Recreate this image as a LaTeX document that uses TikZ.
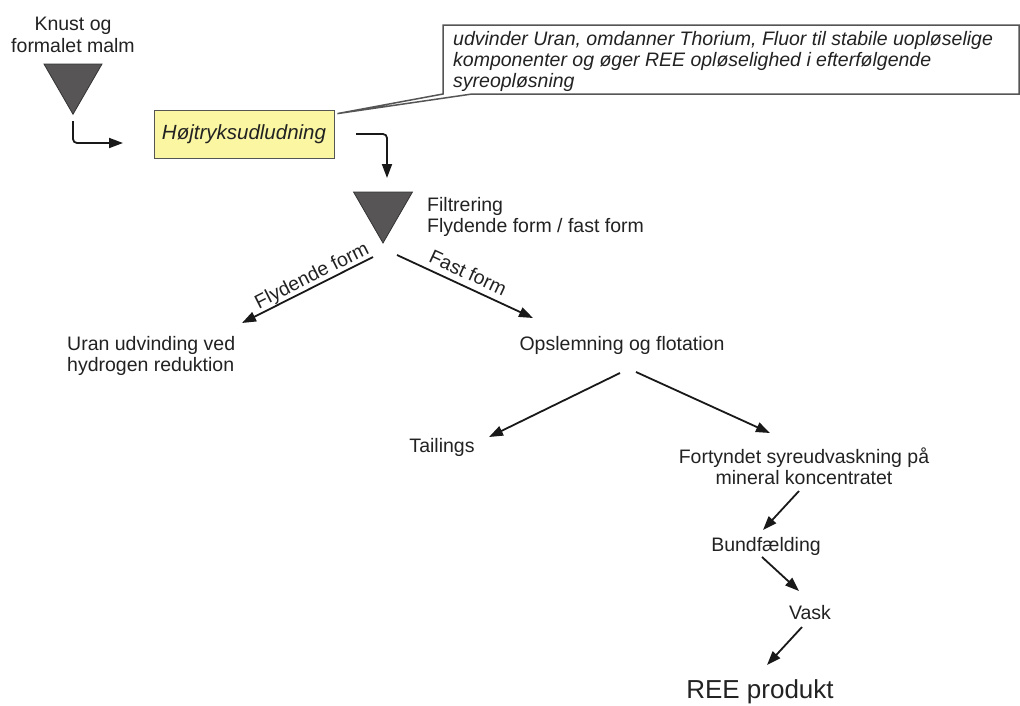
\documentclass[tikz,border=0pt]{standalone}
\usepackage{fontspec}
\setmainfont{Liberation Sans}
\usetikzlibrary{arrows.meta,shapes.geometric,calc}
\definecolor{txt}{HTML}{222222}
\definecolor{tri}{HTML}{575556}
\definecolor{yel}{HTML}{FAF6A2}
\definecolor{bord}{HTML}{555555}
\begin{document}
\begin{tikzpicture}[x=1pt,y=-1pt,
  lbl/.style={font=\fontsize{19.5}{21.5}\selectfont, text=txt, inner sep=0pt, align=center},
  arr/.style={draw=black!90, line width=1.8pt, -{Triangle[length=14pt,width=10pt]}},
  funnel/.style={regular polygon, regular polygon sides=3, shape border rotate=180,
    fill=tri, draw=black!80, line width=0.8pt, inner sep=0pt, outer sep=0pt},
  callout/.style={draw=bord, line width=1.5pt, fill=white, line join=miter},
]
\useasboundingbox[fill=white] (0,0) rectangle (1020,705);

% top left
\node[lbl] (knust) at (73,35) {Knust og\\formalet malm};
\node[funnel, minimum size=67pt] (tri1) at (73,80.75) {};
\node[draw=bord, fill=yel, line width=0.8pt, minimum width=180pt, minimum height=48pt,
  inner sep=0pt, font=\fontsize{20.5}{22}\selectfont\itshape, text=txt] (hoj) at (244,134) {Højtryksudludning};
\coordinate (e1a) at (73,121);
\coordinate (e1b) at (123,143);
\draw[arr, rounded corners=4pt] (e1a) |- (e1b);

% callout
\coordinate (tip) at ($(hoj.north east)+(3,4)$);
\draw[callout] (443,25) -- (1019,25) -- (1019,94) -- (472,94) -- (tip) -- (443,94) -- cycle;
\node[lbl, font=\fontsize{19.5}{21}\selectfont\itshape, align=left, anchor=north west] (note) at (453,31)
  {udvinder Uran, omdanner Thorium, Fluor til stabile uopløselige\\komponenter og øger REE opløselighed i efterfølgende\\syreopløsning};

% second funnel
\coordinate (e2a) at (356,134);
\coordinate (e2b) at (387,178);
\draw[arr, rounded corners=4pt] (e2a) -| (e2b);
\node[funnel, minimum size=68pt] (tri2) at (383,209) {};
\node[lbl, align=left, anchor=west] (filt) at (427,217) {Filtrering\\Flydende form / fast form};

% branches
\coordinate (f1a) at (373,257);
\coordinate (f1b) at (242,323);
\draw[arr] (f1a) -- node[lbl, sloped, above=0pt, pos=0.43] (lfly) {Flydende form} (f1b);
\coordinate (f2a) at (397,255);
\coordinate (f2b) at (533,318);
\draw[arr] (f2a) -- node[lbl, sloped, above=6pt, pos=0.48] (lfast) {Fast form} (f2b);

\node[lbl, align=left, anchor=west] (uran) at (67,356) {Uran udvinding ved\\hydrogen reduktion};
\node[lbl] (ops) at (622,345) {Opslemning og flotation};

\coordinate (o1a) at (620,373);
\coordinate (o1b) at (489,437);
\draw[arr] (o1a) -- (o1b);
\coordinate (o2a) at (636,372);
\coordinate (o2b) at (770,433);
\draw[arr] (o2a) -- (o2b);

\node[lbl] (tail) at (442,447) {Tailings};
\node[lbl] (fort) at (804,466) {Fortyndet syreudvaskning på\\mineral koncentratet};

\coordinate (b1a) at (799,491);
\coordinate (b1b) at (763,530);
\draw[arr] (b1a) -- (b1b);
\node[lbl] (bund) at (766,546) {Bundfælding};
\coordinate (v1a) at (762,557);
\coordinate (v1b) at (799,591);
\draw[arr] (v1a) -- (v1b);
\node[lbl] (vask) at (810,613) {Vask};
\coordinate (r1a) at (802,627);
\coordinate (r1b) at (767,665);
\draw[arr] (r1a) -- (r1b);
\node[lbl, font=\fontsize{26}{28}\selectfont] (ree) at (760,692) {REE produkt};
\end{tikzpicture}
\end{document}
